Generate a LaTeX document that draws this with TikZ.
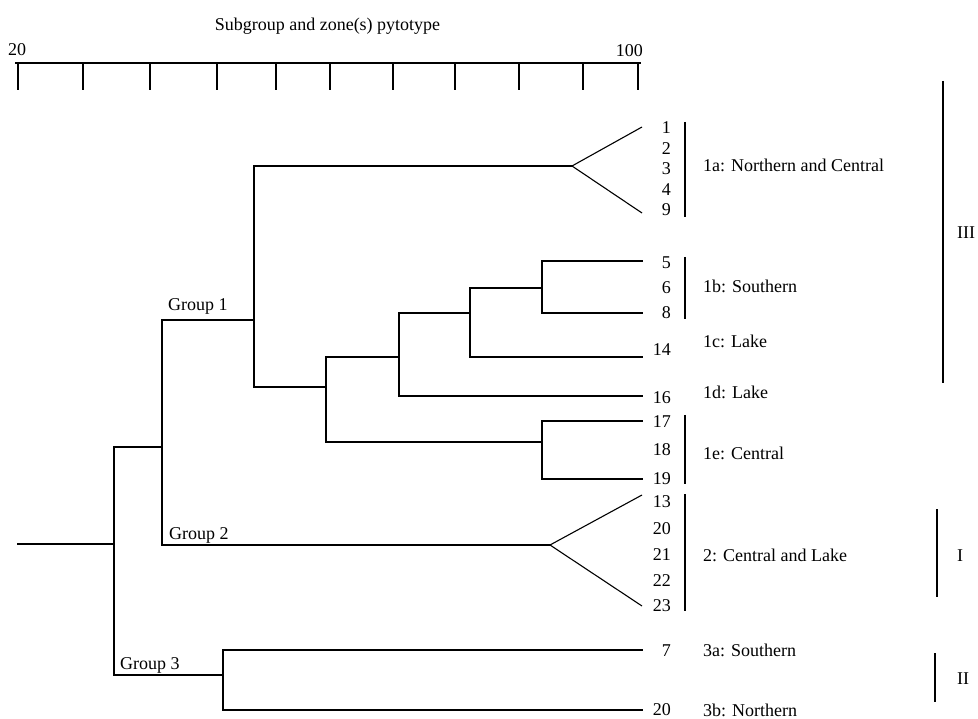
\documentclass[tikz,border=0pt]{standalone}
\usepackage{fontspec}
\setmainfont{Liberation Serif}
\begin{document}
\begin{tikzpicture}[x=1pt,y=-1pt,
  br/.style={line width=1.1pt, line join=miter, line cap=rect},
  txt/.style={inner sep=0pt, font=\fontsize{18}{20}\selectfont},
  lbl/.style={txt, anchor=base west},
  num/.style={txt, anchor=base east},
  bar/.style={line width=1.3pt}]
\useasboundingbox (0,0) rectangle (978,719);

% ---- scale ----
\coordinate (ax0) at (16,63);
\coordinate (ax1) at (640,63);
\draw[br] (ax0) -- (ax1);
\foreach \t in {18,83,150,217,276,330,393,455,519,583,638}
  \draw[br] (\t,63) -- (\t,89);
\node[txt, anchor=base] (title) at (327.5,31) {Subgroup and zone(s) pytotype};
\node[lbl] (s20) at (8,56) {20};
\node[num] (s100) at (643,57) {100};

% ---- internal nodes ----
\coordinate (root) at (18,544);
\coordinate (n0) at (114,544);
\coordinate (n1) at (162,447);
\coordinate (g1) at (254,320);
\coordinate (g2) at (550,545);
\coordinate (g3) at (223,675);
\coordinate (a1) at (572,166);
\coordinate (n3) at (326,387);
\coordinate (n4) at (399,357);
\coordinate (n5) at (470,313);
\coordinate (n6) at (542,288);
\coordinate (n7) at (542,442);

% ---- leaves ----
\coordinate (l1) at (642,127);
\coordinate (l9) at (642,213);
\coordinate (l5) at (642,261);
\coordinate (l8) at (642,313);
\coordinate (l14) at (642,357);
\coordinate (l16) at (642,396);
\coordinate (l17) at (642,421);
\coordinate (l19) at (642,479);
\coordinate (l13) at (642,495);
\coordinate (l23) at (642,606);
\coordinate (l7) at (642,650);
\coordinate (l20) at (642,710);

% ---- branches ----
\draw[br] (root) -- (n0);
\draw[br] (n0) |- (n1);
\draw[br] (n0) |- (g3);
\draw[br] (n1) |- (g1);
\draw[br] (n1) |- (g2);
\draw[br] (g1) |- (a1);
\draw[br] (g1) |- (n3);
\draw[br] (n3) |- (n4);
\draw[br] (n3) |- (n7);
\draw[br] (n4) |- (n5);
\draw[br] (n4) |- (l16);
\draw[br] (n5) |- (n6);
\draw[br] (n5) |- (l14);
\draw[br] (n6) |- (l5);
\draw[br] (n6) |- (l8);
\draw[br] (n7) |- (l17);
\draw[br] (n7) |- (l19);
\draw[br] (g3) |- (l7);
\draw[br] (g3) |- (l20);
\draw[br, line cap=butt] (l1) -- (a1) -- (l9);
\draw[br, line cap=butt] (l13) -- (g2) -- (l23);

% ---- group labels ----
\node[lbl] (G1) at (168,311) {Group 1};
\node[lbl] (G2) at (169,539) {Group 2};
\node[lbl] (G3) at (120,669) {Group 3};

% ---- leaf numbers ----
\foreach \nm/\yy/\tx in {k1/128/1, k2/149/2, k3/169/3, k4/190/4, k9/210/9,
    k5/263/5, k6/288/6, k8/313/8, k14/350/14, k16/397/16,
    k17/422/17, k18/450/18, k19/478/19,
    k13/501/13, k20a/528/20, k21/554/21, k22/580/22, k23/605/23,
    k7/650/7, k20b/709/20}
  \node[num] (\nm) at (671,\yy+6) {\tx};

% ---- subgroup bars ----
\coordinate (b1t) at (685,122); \coordinate (b1b) at (685,217);
\coordinate (b2t) at (685,257); \coordinate (b2b) at (685,319);
\coordinate (b3t) at (685,415); \coordinate (b3b) at (685,484);
\coordinate (b4t) at (685,494); \coordinate (b4b) at (685,611);
\draw[bar] (b1t) -- (b1b);
\draw[bar] (b2t) -- (b2b);
\draw[bar] (b3t) -- (b3b);
\draw[bar] (b4t) -- (b4b);

% ---- subgroup labels ----
\node[lbl] (s1a) at (703,172) {1a: Northern and Central};
\node[lbl] (s1b) at (703,293) {1b: Southern};
\node[lbl] (s1c) at (703,348) {1c: Lake};
\node[lbl] (s1d) at (703,399) {1d: Lake};
\node[lbl] (s1e) at (703,460) {1e: Central};
\node[lbl] (s2) at (703,561) {2: Central and Lake};
\node[lbl] (s3a) at (703,656) {3a: Southern};
\node[lbl] (s3b) at (703,716) {3b: Northern};

% ---- roman bars ----
\coordinate (r3t) at (943,81); \coordinate (r3b) at (943,383);
\coordinate (r1t) at (937,509); \coordinate (r1b) at (937,597);
\coordinate (r2t) at (935,653); \coordinate (r2b) at (935,702);
\draw[bar] (r3t) -- (r3b);
\draw[bar] (r1t) -- (r1b);
\draw[bar] (r2t) -- (r2b);
\node[lbl] (RIII) at (957,239) {III};
\node[lbl] (RI) at (957,561) {I};
\node[lbl] (RII) at (957,684) {II};
\end{tikzpicture}
\end{document}
